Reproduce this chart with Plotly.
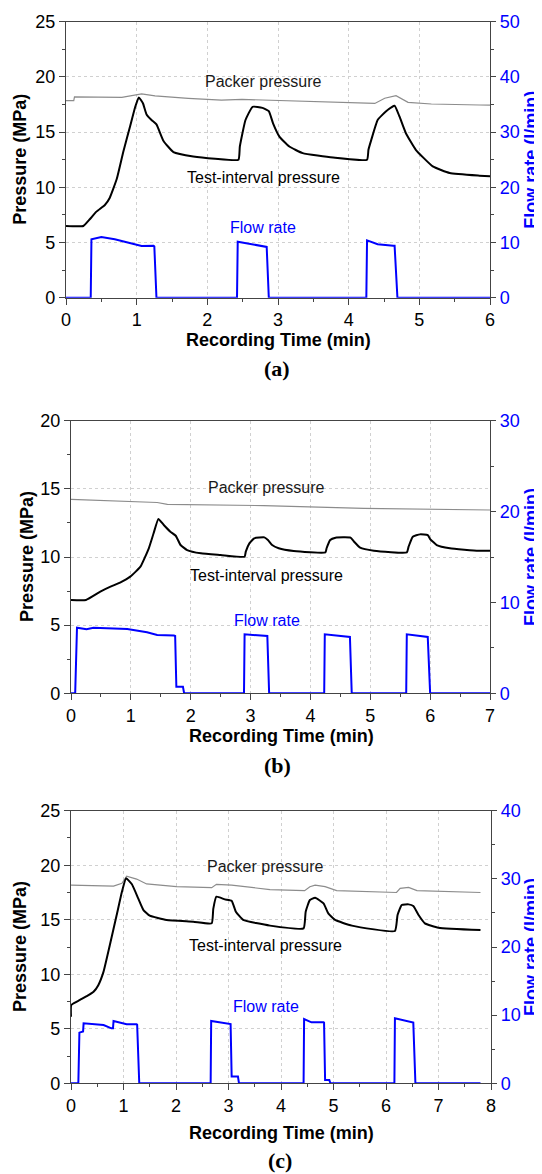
import plotly.graph_objects as go

# ---- panel (a) ----
a_test_t = [0, 0.245, 0.34, 0.43, 0.55, 0.62, 0.72, 0.81, 0.91, 0.98, 1.03, 1.09, 1.14, 1.21, 1.28, 1.38, 1.52, 1.80,
            2.11, 2.44, 2.46, 2.54, 2.64, 2.78, 2.87, 2.93, 3.02, 3.16, 3.35, 3.78, 4.26, 4.28, 4.32, 4.41, 4.53, 4.65,
            4.72, 4.81, 4.95, 5.19, 5.43, 5.85, 6.0]
a_test_p = [6.5, 6.5, 7.13, 7.8, 8.4, 9.06, 10.8, 13.2, 15.6, 17.3, 18.15, 17.6, 16.6, 16.1, 15.7, 14.2, 13.2, 12.8,
            12.6, 12.5, 13.7, 16.1, 17.3, 17.2, 16.9, 15.8, 14.6, 13.7, 13.1, 12.7, 12.5, 13.4, 14.3, 16.1, 16.9, 17.4,
            16.4, 14.9, 13.4, 11.9, 11.3, 11.06, 11.0]
a_pack_t = [0, 0.11, 0.12, 0.79, 1.07, 1.26, 1.73, 2.2, 2.49, 2.81, 3.75, 4.37, 4.51, 4.67, 4.84, 5.17, 5.85, 6.0]
a_pack_p = [17.86, 17.86, 18.2, 18.15, 18.46, 18.28, 18.07, 17.9, 17.97, 17.9, 17.7, 17.6, 18.07, 18.3, 17.7, 17.55,
            17.46, 17.45]
a_flow_t = [0, 0.35, 0.36, 0.5, 0.69, 0.93, 1.07, 1.24, 1.25, 1.28, 2.42, 2.43, 2.67, 2.84, 2.87, 4.25, 4.26, 4.41,
            4.63, 4.65, 4.69, 6.0]
a_flow_q = [0, 0, 10.6, 11.0, 10.6, 9.85, 9.36, 9.4, 9.3, 0, 0, 10.15, 9.55, 9.2, 0, 0, 10.4, 9.7, 9.4, 9.4, 0, 0]

# ---- panel (b) ----
b_test_t = [0, 0.25, 0.49, 0.66, 0.82, 0.99, 1.16, 1.30, 1.38, 1.46, 1.55, 1.66, 1.75, 1.83, 1.94, 2.17, 2.50, 2.90,
            2.92, 2.98, 3.06, 3.23, 3.29, 3.36, 3.47, 3.72, 4.25, 4.27, 4.33, 4.42, 4.67, 4.73, 4.83, 5.06, 5.61, 5.64,
            5.71, 5.83, 5.96, 6.0, 6.11, 6.33, 6.81, 7.0]
b_test_p = [6.85, 6.85, 7.46, 7.82, 8.12, 8.56, 9.29, 10.64, 11.74, 12.79, 12.35, 11.86, 11.56, 10.88, 10.51, 10.27,
            10.15, 10.02, 10.39, 11.0, 11.37, 11.44, 11.25, 10.88, 10.64, 10.44, 10.34, 10.64, 11.25, 11.42, 11.42,
            11.12, 10.68, 10.46, 10.34, 10.76, 11.49, 11.66, 11.61, 11.32, 10.88, 10.64, 10.46, 10.45]
b_pack_t = [0, 1.44, 1.61, 3.22, 4.89, 6.8, 7.0]
b_pack_p = [14.23, 14.0, 13.86, 13.77, 13.57, 13.45, 13.45]
b_flow_t = [0, 0.07, 0.1, 0.26, 0.375, 0.94, 1.27, 1.44, 1.72, 1.74, 1.76, 1.87, 1.89, 2.89, 2.90, 3.1, 3.28, 3.31,
            4.23, 4.24, 4.64, 4.66, 4.69, 5.60, 5.61, 5.94, 5.96, 6.0, 7.0]
b_flow_q = [0, 0, 7.22, 7.04, 7.22, 7.08, 6.71, 6.42, 6.35, 6.3, 0.73, 0.73, 0, 0, 6.49, 6.35, 6.3, 0,
            0, 6.49, 6.23, 6.2, 0, 0, 6.49, 6.27, 6.2, 0, 0]

# ---- panel (c) ----
c_test_t = [0, 0.005, 0.17, 0.30, 0.43, 0.52, 0.62, 0.74, 0.87, 0.97, 1.05, 1.16, 1.28, 1.38, 1.50, 1.82, 2.33, 2.68,
            2.71, 2.77, 2.93, 3.06, 3.14, 3.28, 3.79, 4.43, 4.47, 4.55, 4.65, 4.81, 4.90, 5.03, 5.35, 6.17, 6.22, 6.30,
            6.43, 6.52, 6.62, 6.74, 7.0, 7.8]
c_test_p = [6.1, 7.18, 7.64, 8.0, 8.4, 9.0, 10.24, 12.68, 15.43, 17.57, 18.8, 18.25, 16.96, 15.89, 15.37, 14.98, 14.82,
            14.67, 16.0, 17.11, 16.87, 16.75, 15.74, 14.98, 14.46, 14.21, 15.74, 16.81, 17.02, 16.5, 15.59, 14.98,
            14.46, 13.97, 15.43, 16.35, 16.41, 16.26, 15.43, 14.67, 14.27, 14.05]
c_pack_t = [0, 0.81, 0.97, 1.06, 1.25, 1.44, 2.01, 2.68, 2.77, 3.06, 3.79, 4.45, 4.55, 4.65, 4.84, 5.06, 6.2, 6.27,
            6.43, 6.59, 7.8]
c_pack_p = [18.18, 18.09, 18.34, 19.0, 18.73, 18.28, 18.03, 17.94, 18.25, 18.18, 17.76, 17.67, 18.03, 18.18, 18.03,
            17.67, 17.5, 17.88, 17.97, 17.67, 17.5]
c_flow_t = [0, 0.14, 0.16, 0.23, 0.24, 0.62, 0.77, 0.80, 0.81, 1.06, 1.25, 1.26, 1.30, 2.66, 2.67, 3.03, 3.04, 3.06,
            3.18, 3.20, 4.43, 4.44, 4.58, 4.81, 4.82, 4.84, 4.92, 4.94, 6.16, 6.17, 6.49, 6.52, 6.56, 7.8]
c_flow_q = [0, 0, 7.43, 7.6, 8.8, 8.56, 8.07, 8.07, 9.15, 8.66, 8.66, 8.6, 0, 0, 9.15, 8.75, 8.7, 0.98,
            0.98, 0, 0, 9.44, 8.95, 8.95, 8.9, 0.49, 0.49, 0, 0, 9.54, 8.95, 8.9, 0, 0]

panels = [
    dict(tt=a_test_t, tp=a_test_p, pt=a_pack_t, pp=a_pack_p, ft=a_flow_t, fq=a_flow_q,
         xmax=6, pmax=25, qmax=50, qdt=10, tag="(a)", lab_t=2.79, lab_p=(19.6, 10.9, 6.4)),
    dict(tt=b_test_t, tp=b_test_p, pt=b_pack_t, pp=b_pack_p, ft=b_flow_t, fq=b_flow_q,
         xmax=7, pmax=20, qmax=30, qdt=10, tag="(b)", lab_t=3.27, lab_p=(15.08, 8.63, 5.33)),
    dict(tt=c_test_t, tp=c_test_p, pt=c_pack_t, pp=c_pack_p, ft=c_flow_t, fq=c_flow_q,
         xmax=8, pmax=25, qmax=40, qdt=10, tag="(c)", lab_t=3.71, lab_p=(19.87, 12.6, 7.03)),
]

# the page body has an 8px margin, so the figure is drawn 8px smaller and all
# reference pixel positions below are shifted by that amount
OFF = 8
W, H = 542 - OFF, 1174 - OFF
# pixel boxes (reference coordinates) of the three plot areas: left, right, top, bottom
boxes = [(66, 490, 21.8, 297.7), (71, 490, 420.7, 693.3), (71, 491, 810.7, 1083.3)]
tag_pos = [(277, 368), (277, 765), (280, 1160)]
xtitle_pos = [(278.6, 340), (281, 736), (281, 1133)]
ytitle_x = [20, 27, 20]
rtitle_x = 531


def px(x):
    return (x - OFF) / W


def py(y):
    return 1 - (y - OFF) / H


FONT = "Liberation Sans, Arial, sans-serif"
BLUE = "#0000ff"
AX = "#444444"
GRID = "#d0d0d0"

fig = go.Figure()
layout = dict(width=W, height=H, margin=dict(l=0, r=0, t=0, b=0), paper_bgcolor="white",
              plot_bgcolor="white", showlegend=False, font=dict(family=FONT, size=18, color="black"))
annotations = []

for i, (p, box) in enumerate(zip(panels, boxes)):
    k = i + 1
    xname = "x" if k == 1 else f"x{k}"
    yl = 2 * i + 1
    yr = 2 * i + 2
    ylname = "y" if yl == 1 else f"y{yl}"
    yrname = f"y{yr}"
    xd = [px(box[0]), px(box[1])]
    yd = [py(box[3]), py(box[2])]

    fig.add_trace(go.Scatter(x=p["pt"], y=p["pp"], mode="lines", xaxis=xname, yaxis=ylname,
                             line=dict(color="#8c8c8c", width=1.2)))
    fig.add_trace(go.Scatter(x=p["tt"], y=p["tp"], mode="lines", xaxis=xname, yaxis=ylname,
                             line=dict(color="black", width=2, shape="spline", smoothing=0.4)))
    fig.add_trace(go.Scatter(x=p["ft"], y=p["fq"], mode="lines", xaxis=xname, yaxis=yrname,
                             line=dict(color=BLUE, width=2)))

    xkey = "xaxis" if k == 1 else f"xaxis{k}"
    layout[xkey] = dict(
        domain=xd, anchor=ylname, range=[0, p["xmax"]], dtick=1, tick0=0, automargin=False,
        ticks="outside", ticklen=6, tickcolor=AX, showline=True, linecolor=AX, linewidth=1.2, mirror=True,
        showgrid=True, gridcolor=GRID, griddash="dot", gridwidth=1, zeroline=False,
        minor=dict(dtick=0.5, ticks="outside", ticklen=3, tickcolor=AX, showgrid=False),
        tickfont=dict(size=18, color="black"),
    )
    ylkey = "yaxis" if yl == 1 else f"yaxis{yl}"
    layout[ylkey] = dict(
        domain=yd, anchor=xname, range=[0, p["pmax"]], dtick=5, tick0=0, automargin=False,
        ticks="outside", ticklen=6, tickcolor=AX, showline=True, linecolor=AX, linewidth=1.2,
        showgrid=True, gridcolor=GRID, griddash="dot", gridwidth=1, zeroline=False,
        minor=dict(dtick=2.5, ticks="outside", ticklen=3, tickcolor=AX, showgrid=False),
        tickfont=dict(size=18, color="black"),
    )
    layout[f"yaxis{yr}"] = dict(
        overlaying=ylname, side="right", anchor=xname, range=[0, p["qmax"]], dtick=p["qdt"], tick0=0,
        automargin=False, ticks="outside", ticklen=5, tickcolor=AX, showline=True, linecolor=AX, linewidth=1.2,
        showgrid=False, zeroline=False,
        minor=dict(dtick=p["qdt"] / 2, ticks="outside", ticklen=3, tickcolor=AX, showgrid=False),
        tickfont=dict(size=18, color=BLUE),
    )

    ymid = py((box[2] + box[3]) / 2)
    lp = p["lab_p"]
    annotations += [
        dict(x=p["lab_t"], y=lp[0], xref=xname, yref=ylname, text="Packer pressure", showarrow=False,
             font=dict(size=16, color="#1a1a1a")),
        dict(x=p["lab_t"], y=lp[1], xref=xname, yref=ylname, text="Test-interval pressure", showarrow=False,
             font=dict(size=16, color="black")),
        dict(x=p["lab_t"], y=lp[2], xref=xname, yref=ylname, text="Flow rate", showarrow=False,
             font=dict(size=16, color=BLUE)),
        dict(x=px(xtitle_pos[i][0]), y=py(xtitle_pos[i][1]), xref="paper", yref="paper",
             text="<b>Recording Time (min)</b>", showarrow=False, xanchor="center", yanchor="middle",
             font=dict(size=18, color="black")),
        dict(x=px(ytitle_x[i]), y=ymid, xref="paper", yref="paper", text="<b>Pressure (MPa)</b>",
             showarrow=False, textangle=-90, xanchor="center", yanchor="middle", font=dict(size=18, color="black")),
        dict(x=px(rtitle_x), y=ymid, xref="paper", yref="paper", text="<b>Flow rate (l/min)</b>",
             showarrow=False, textangle=-90, xanchor="center", yanchor="middle", font=dict(size=18, color=BLUE)),
        dict(x=px(tag_pos[i][0]), y=py(tag_pos[i][1]), xref="paper", yref="paper", text=f"<b>{p['tag']}</b>",
             showarrow=False, xanchor="center", yanchor="middle",
             font=dict(family="Liberation Serif, Times New Roman, serif", size=22, color="black")),
    ]

layout["annotations"] = annotations
fig.update_layout(**layout)
fig.write_html("out.html")
